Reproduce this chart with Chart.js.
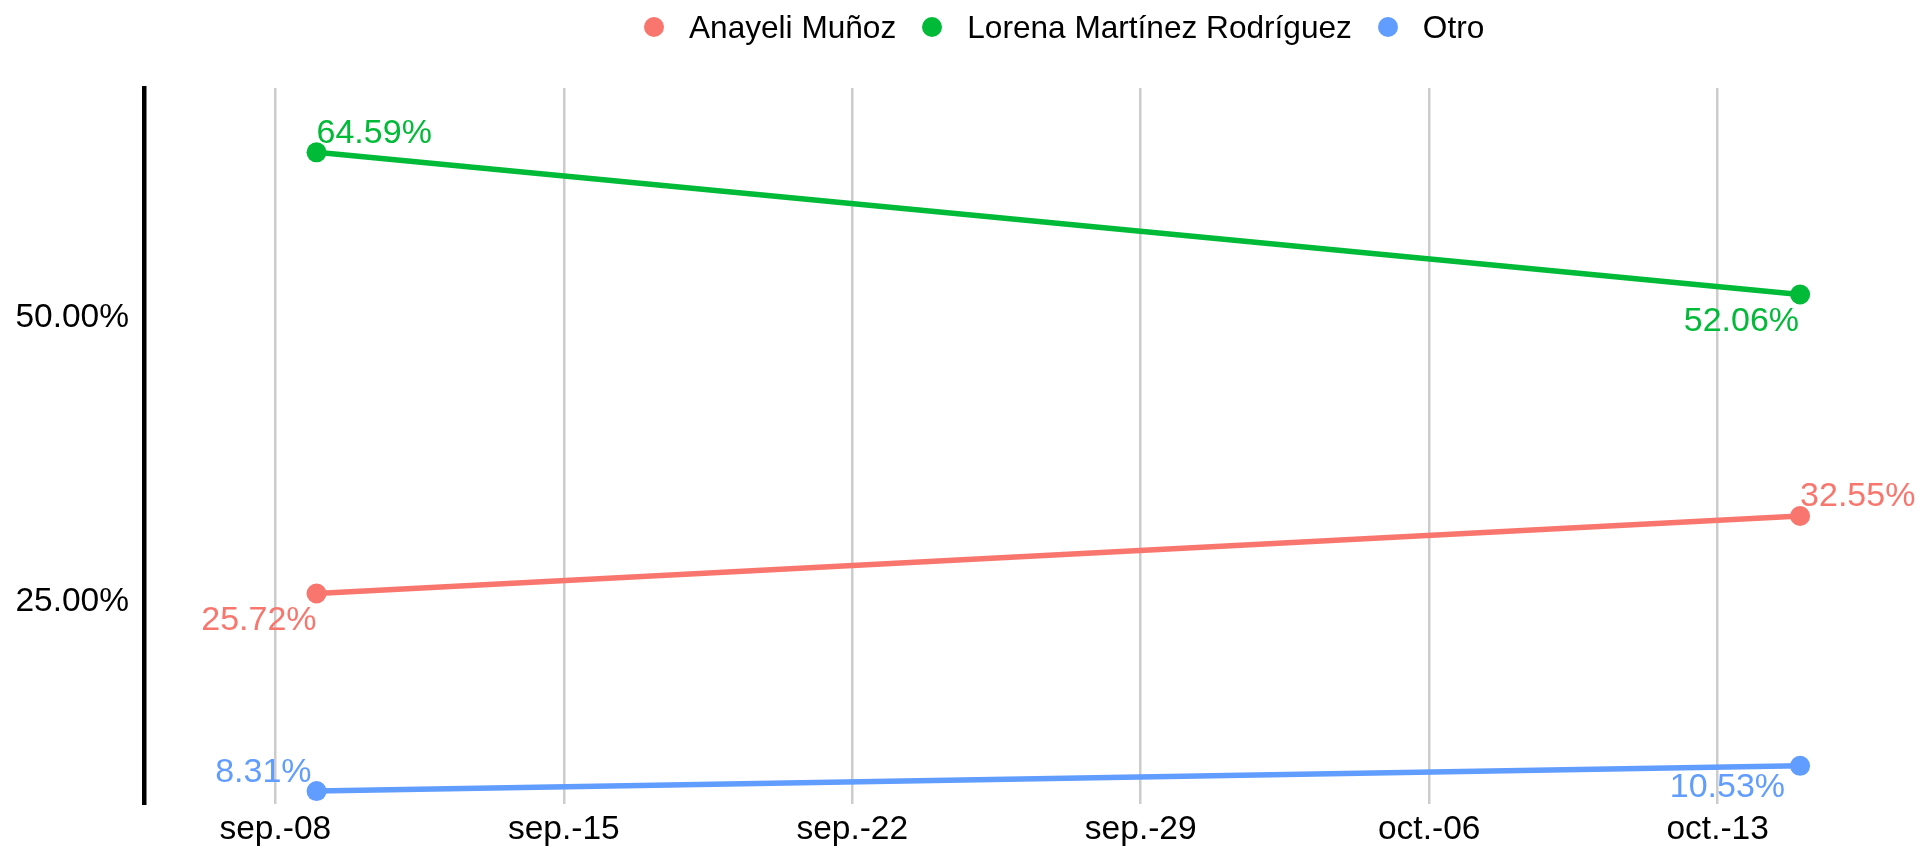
<!DOCTYPE html>
<html><head><meta charset="utf-8">
<script src="https://cdn.jsdelivr.net/npm/chart.js@4.4.1/dist/chart.umd.min.js"></script>
<style>
html,body{margin:0;padding:0;background:#fff;}
#wrap{position:relative;width:1923px;height:848px;}
#legend{position:absolute;left:644px;top:11px;display:flex;align-items:center;font-family:"Liberation Sans",Arial,sans-serif;font-size:31.6px;line-height:32px;color:#000;white-space:nowrap;}
.item{display:flex;align-items:center;margin-right:26px;}
.dot{width:20px;height:20px;border-radius:50%;margin-right:25px;}
</style></head>
<body><div id="wrap"><canvas id="c" width="1923" height="848"></canvas><div id="legend"></div></div>
<script>
const seriesNames = ["Anayeli Muñoz", "Lorena Martínez Rodríguez", "Otro"];
const seriesColors = ["#F8766D", "#00BA38", "#619CFF"];
const dates = ["2024-09-09", "2024-10-15"];
const anayeliValues = [25.72, 32.55];
const lorenaValues = [64.59, 52.06];
const otroValues = [8.31, 10.53];
const xTickDates = ["2024-09-08", "2024-09-15", "2024-09-22", "2024-09-29", "2024-10-06", "2024-10-13"];
const xTickLabels = ["sep.-08", "sep.-15", "sep.-22", "sep.-29", "oct.-06", "oct.-13"];
const yTickValues = [25, 50];
const yTickLabels = ["25.00%", "50.00%"];

// label placement (style): alignment and offsets relative to point
const labelPlacement = [
  [{align:'right', dx:0, dy:24}, {align:'left', dx:0, dy:-22}],
  [{align:'left', dx:0, dy:-22}, {align:'right', dx:-1, dy:24}],
  [{align:'right', dx:-5, dy:-21}, {align:'right', dx:-15, dy:18.5}]
];

const DAY = 86400000;
const base = Date.parse(xTickDates[0]);
const dayOf = d => (Date.parse(d) - base) / DAY;
const allValues = [anayeliValues, lorenaValues, otroValues];
const tickPos = xTickDates.map(dayOf);

const FONT = '"Liberation Sans", Arial, sans-serif';
Chart.defaults.font.family = FONT;
Chart.defaults.color = '#000';

// HTML legend
const leg = document.getElementById('legend');
seriesNames.forEach((n, i) => {
  const it = document.createElement('div'); it.className = 'item';
  const d = document.createElement('span'); d.className = 'dot'; d.style.background = seriesColors[i];
  const t = document.createElement('span'); t.textContent = n;
  it.appendChild(d); it.appendChild(t); leg.appendChild(it);
});

const valueLabels = {
  id: 'valueLabels',
  afterDatasetsDraw(chart) {
    const ctx = chart.ctx;
    ctx.save();
    const fs = 34;
    ctx.font = fs + 'px ' + FONT;
    ctx.textBaseline = 'alphabetic';
    chart.data.datasets.forEach((ds, di) => {
      const meta = chart.getDatasetMeta(di);
      meta.data.forEach((pt, i) => {
        const p = labelPlacement[di][i];
        ctx.fillStyle = ds.borderColor;
        ctx.textAlign = p.align;
        ctx.fillText(ds.data[i].y.toFixed(2) + '%', pt.x + p.dx, pt.y + p.dy + 0.358 * fs);
      });
    });
    ctx.restore();
  }
};

new Chart(document.getElementById('c'), {
  type: 'line',
  data: {
    datasets: seriesNames.map((n, i) => ({
      label: n,
      data: dates.map((d, j) => ({x: dayOf(d), y: allValues[i][j]})),
      borderColor: seriesColors[i],
      backgroundColor: seriesColors[i],
      borderWidth: 5.5,
      pointRadius: 10,
      pointBorderWidth: 0,
      pointHoverRadius: 10,
      tension: 0,
      fill: false
    }))
  },
  options: {
    responsive: false,
    animation: false,
    layout: {padding: {top: 88, right: 8, left: 0, bottom: 0}},
    plugins: {legend: {display: false}, tooltip: {enabled: false}},
    scales: {
      x: {
        type: 'linear',
        min: -3.187,
        max: 39.74,
        afterBuildTicks: s => { s.ticks = tickPos.map(v => ({value: v})); },
        afterFit: s => { s.height = 44; },
        ticks: {
          font: {size: 33.5},
          color: '#000',
          padding: 6,
          maxRotation: 0,
          autoSkip: false,
          callback: (v) => { const k = tickPos.indexOf(v); return k >= 0 ? xTickLabels[k] : ''; }
        },
        grid: {display: true, color: '#cccccc', lineWidth: 2.5, drawTicks: false},
        border: {display: false}
      },
      y: {
        type: 'linear',
        min: 7.17,
        max: 70.26,
        afterBuildTicks: s => { s.ticks = yTickValues.map(v => ({value: v})); },
        afterFit: s => { s.width = 144; },
        ticks: {
          font: {size: 33.5},
          color: '#000',
          padding: 15,
          autoSkip: false,
          callback: (v) => { const k = yTickValues.indexOf(v); return k >= 0 ? yTickLabels[k] : ''; }
        },
        grid: {display: false, drawTicks: false},
        border: {display: true, color: '#000', width: 4.5}
      }
    }
  },
  plugins: [valueLabels]
});
</script>
</body></html>
